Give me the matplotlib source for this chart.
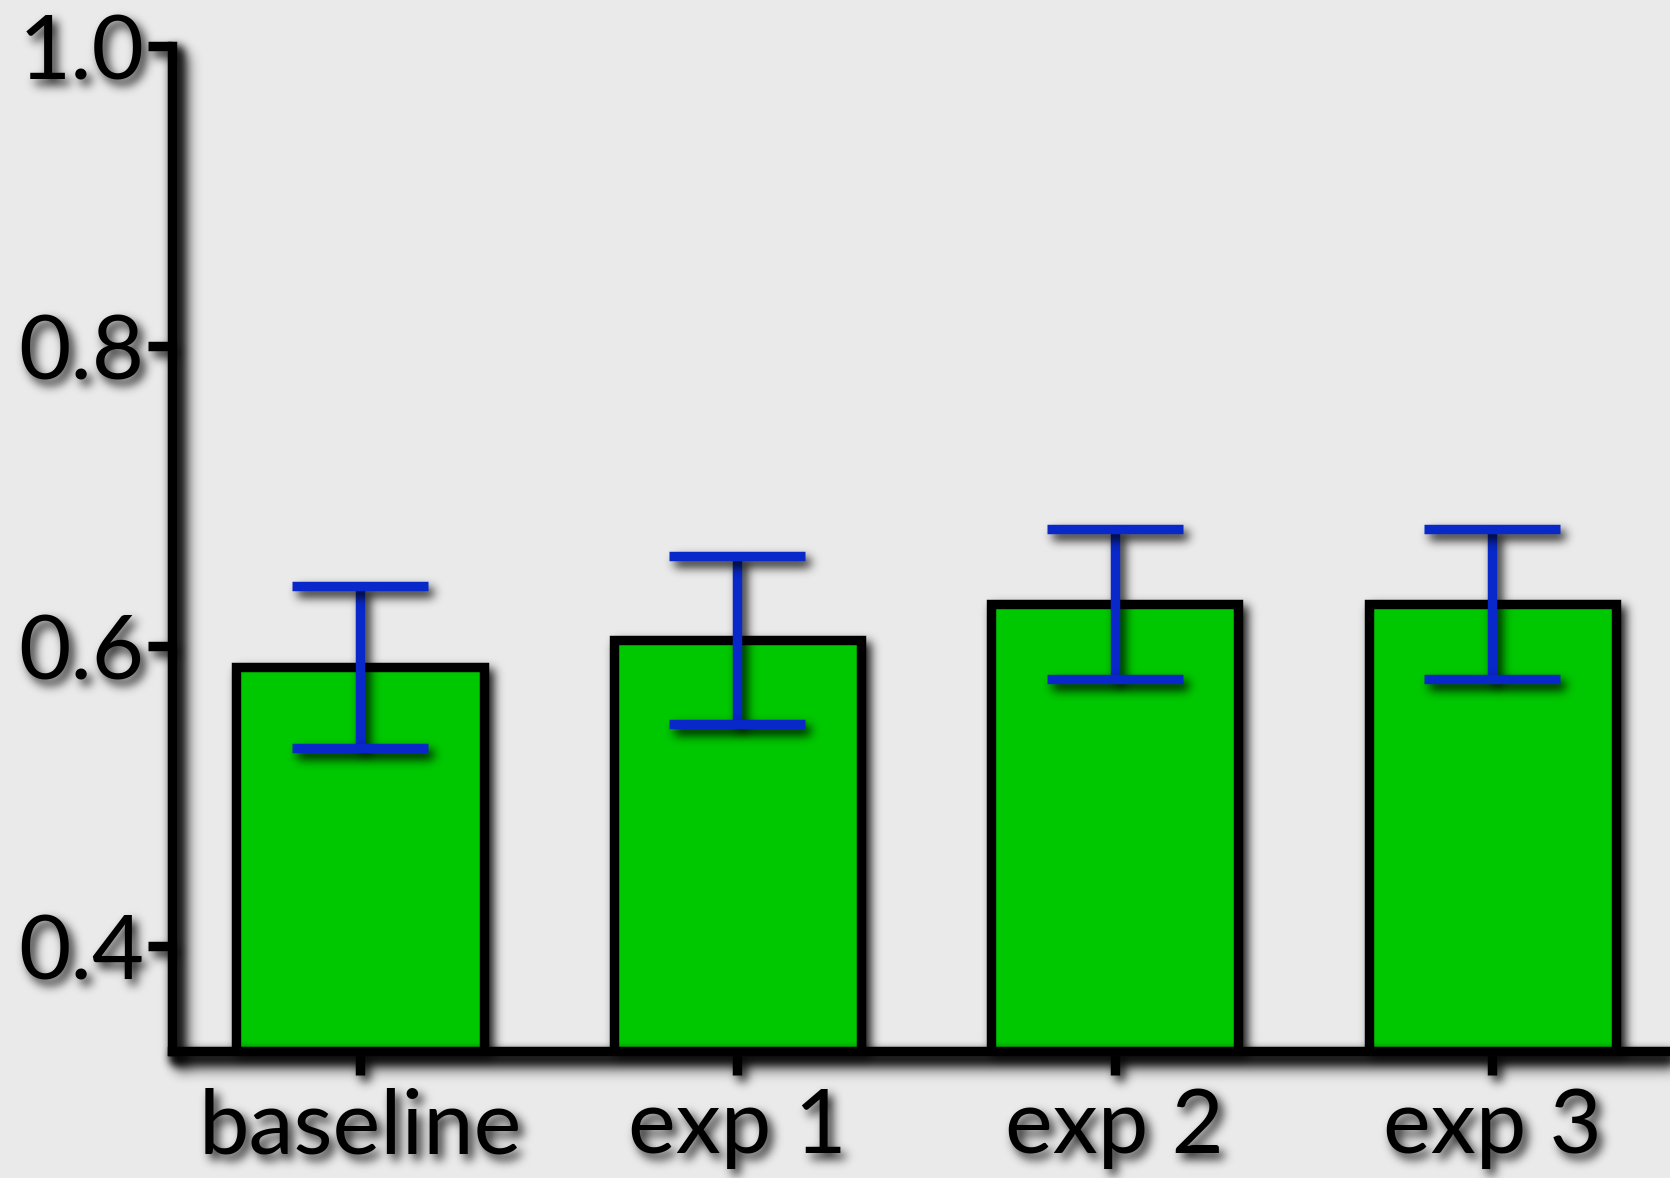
import numpy as np
import matplotlib
matplotlib.use("Agg")
import matplotlib.pyplot as plt

# Data
categories = ["baseline", "exp 1", "exp 2", "exp 3"]
means = [0.586, 0.604, 0.628, 0.628]
errors = [0.054, 0.056, 0.050, 0.050]
yticks = [0.4, 0.6, 0.8, 1.0]
ytick_labels = ["0.4", "0.6", "0.8", "1.0"]

BG = "#EAEAEA"
GREEN = "#00C800"
BLUE = "#0828C9"
LW = 6.8


class DropShadow:
    """agg filter: blurred, offset shadow composited beneath the artist."""

    def __init__(self, sigma=3.6, offsets=(3.6, -4.3), alpha=0.9, color=(0, 0, 0)):
        self.sigma = sigma
        self.offsets = offsets
        self.alpha = alpha
        self.color = np.asarray(color, float)

    def __call__(self, im, dpi):
        s = self.sigma / 72 * dpi
        ox = int(round(self.offsets[0] / 72 * dpi))
        oy = int(round(-self.offsets[1] / 72 * dpi))
        r = int(np.ceil(3 * s))
        pad = r + max(abs(ox), abs(oy)) + 1
        src = np.pad(im, [(pad, pad), (pad, pad), (0, 0)], mode="constant")
        a = src[..., 3]
        k = np.exp(-0.5 * (np.arange(-r, r + 1) / s) ** 2)
        k /= k.sum()
        tmp = np.zeros_like(a)
        for i, w in enumerate(k):
            tmp += w * np.roll(a, i - r, axis=0)
        blur = np.zeros_like(a)
        for i, w in enumerate(k):
            blur += w * np.roll(tmp, i - r, axis=1)
        sh = np.roll(np.roll(blur, oy, axis=0), ox, axis=1) * self.alpha

        ao = src[..., 3]
        out_a = ao + sh * (1 - ao)
        safe = np.where(out_a > 0, out_a, 1)
        out = np.empty_like(src)
        for c in range(3):
            out[..., c] = (src[..., c] * ao + self.color[c] * sh * (1 - ao)) / safe
        out[..., 3] = out_a
        return np.clip(out, 0, 1), -pad, -pad


shadow = DropShadow()

plt.rcParams["font.family"] = ["Lato", "DejaVu Sans"]

fig = plt.figure(figsize=(16.7, 11.78), dpi=100, facecolor=BG)
ax = fig.add_axes([0.103, 0.1078, 0.897, 0.853], facecolor=BG)

x = np.arange(len(categories))
bars = ax.bar(x, means, width=0.655, color=GREEN, edgecolor="black",
              linewidth=LW, zorder=2)
for b in bars:
    b.set_joinstyle("miter")
    b.set_agg_filter(shadow)

eb = ax.errorbar(x, means, yerr=errors, fmt="none", ecolor=BLUE,
                 elinewidth=LW, capsize=49, capthick=LW, zorder=4)
for ln in eb.lines[1]:
    ln.set_agg_filter(shadow)
for col in eb.lines[2]:
    col.set_agg_filter(shadow)
    col.set_capstyle("butt")

ax.set_xlim(-0.498, 3.471)
ax.set_ylim(0.33, 1.0)

for side in ("top", "right"):
    ax.spines[side].set_visible(False)
for side in ("left", "bottom"):
    sp = ax.spines[side]
    sp.set_linewidth(LW)
    sp.set_capstyle("projecting")
    sp.set_zorder(3)
    sp.set_agg_filter(shadow)

ax.set_xticks(x)
ax.set_xticklabels(categories)
ax.set_yticks(yticks)
ax.set_yticklabels(ytick_labels)
ax.tick_params(axis="both", direction="out", length=17, width=LW,
               color="black", labelsize=65)
ax.tick_params(axis="y", pad=3)
ax.tick_params(axis="x", pad=9)

for tick in ax.xaxis.get_major_ticks() + ax.yaxis.get_major_ticks():
    tick.label1.set_agg_filter(shadow)
    tick.tick1line.set_agg_filter(shadow)

fig.savefig("out.png", dpi=100, facecolor=BG)
